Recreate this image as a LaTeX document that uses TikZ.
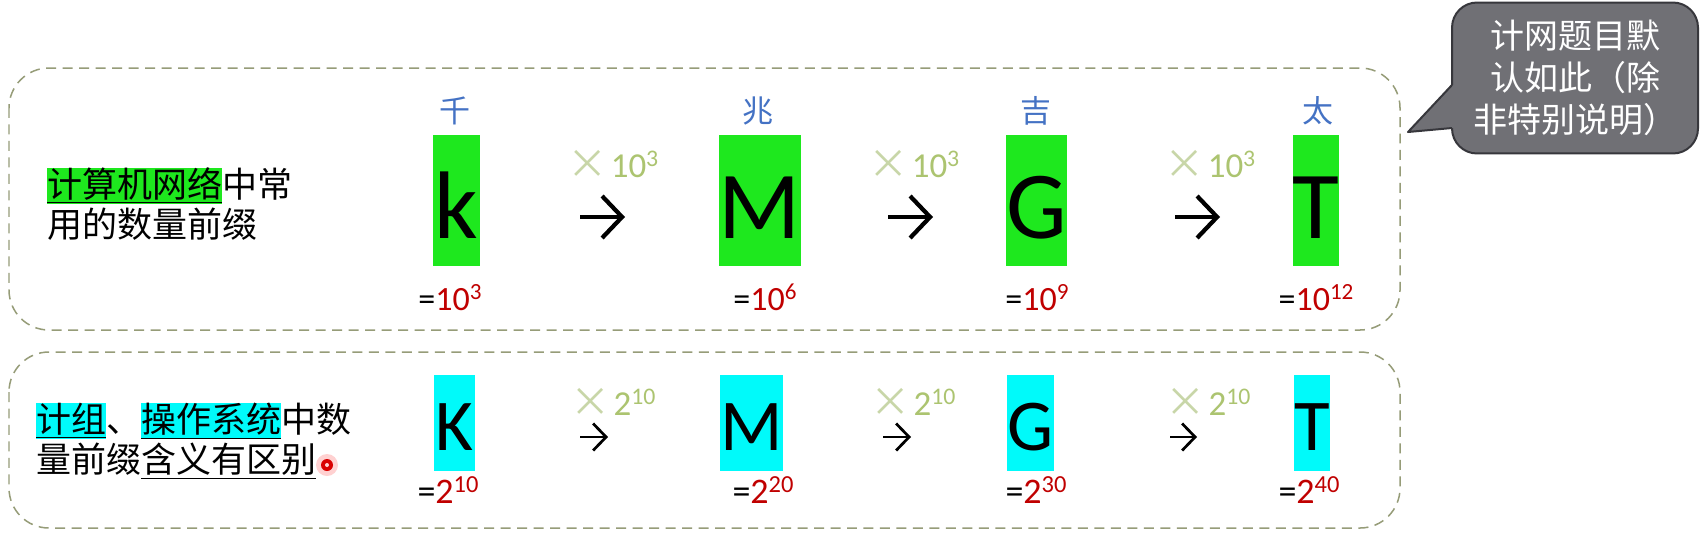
\documentclass[tikz,border=0pt]{standalone}
\usepackage{fontspec}
\usepackage{tikz}
\setmainfont{Carlito}
\newfontfamily\cjk{Noto Sans CJK SC}
\usetikzlibrary{
  arrows.meta,
  calc,
  positioning,
  shapes}
\definecolor{boxgreen}{RGB}{30,232,30}
\definecolor{boxcyan}{RGB}{0,250,250}
\definecolor{zhblue}{RGB}{68,114,196}
\definecolor{eqred}{RGB}{192,0,0}
\definecolor{multgreen}{RGB}{172,196,112}
\definecolor{multlight}{RGB}{200,214,168}
\definecolor{dashgray}{RGB}{150,156,120}
\definecolor{notegray}{RGB}{112,112,117}
\definecolor{noteborder}{RGB}{55,55,60}
\newcommand{\hlg}[1]{{\setlength{\fboxsep}{0pt}\colorbox{boxgreen}{\underline{#1}}}}
\newcommand{\hlc}[1]{{\setlength{\fboxsep}{0pt}\colorbox{boxcyan}{\underline{#1}}}}
\newcommand{\sups}[1]{\raisebox{0.3em}{\scalebox{0.68}{#1}}}
\newcommand{\mulsign}{\textcolor{multlight}{\raisebox{-0.05em}{\scalebox{1.15}{\cjk×}}}\kern0.08em}

\begin{document}
\begin{tikzpicture}[x=0.02cm,y=-0.02cm,
    frame/.style={draw=dashgray,line width=0.03cm,dash pattern=on 0.2cm off 0.13cm,rounded corners=0.8cm},
    lefttext/.style={anchor=west,align=left,inner sep=0pt,font=\cjk\fontsize{0.7cm}{0.8cm}\selectfont},
    bigbox/.style={inner sep=0pt,minimum height=2.62cm,text height=1.5cm,text depth=0pt,font=\fontsize{1.92cm}{2cm}\selectfont},
    smallbox/.style={inner sep=0pt,minimum height=1.92cm,text height=1.08cm,text depth=0pt,font=\fontsize{1.46cm}{1.6cm}\selectfont},
    zh/.style={text=zhblue,inner sep=0pt,font=\cjk\fontsize{0.62cm}{0.7cm}\selectfont},
    eqtop/.style={anchor=base,inner sep=0pt,font=\fontsize{0.68cm}{0.8cm}\selectfont},
    eqbot/.style={anchor=base,inner sep=0pt,font=\fontsize{0.72cm}{0.8cm}\selectfont},
    mult/.style={anchor=base,inner sep=0pt,text=multgreen,font=\fontsize{0.7cm}{0.8cm}\selectfont},
    bigarr/.style={line width=0.085cm,-{Straight Barb[length=0.4cm,width=0.84cm]}},
    smallarr/.style={line width=0.055cm,-{Straight Barb[length=0.26cm,width=0.54cm]}},
    note/.style={fill=notegray,draw=noteborder,line width=0.04cm,rounded corners=0.5cm,minimum width=4.92cm,minimum height=3.02cm,text=white,align=center,font=\cjk\fontsize{0.68cm}{0.84cm}\selectfont}]
        \useasboundingbox[fill=white] (0,0) rectangle (1702,542);
        \draw[frame] (9,68) rectangle (1400,330);
        \draw[frame] (9,352) rectangle (1400,528);
        \node[lefttext] (nettext) at (47,204) {\hlg{计算机网络}中常\\用的数量前缀};
        \node[lefttext] (ostext) at (36,441) {\hlc{计组}、\hlc{操作系统}中数\\量前缀\underline{含义有区别}};
        \coordinate (dot) at (327,465);
        \fill[red!18] (dot) circle (0.22cm);
        \fill[red!85!black] (dot) circle (0.12cm);
        \fill[pink!70] (dot) circle (0.04cm);
        \node[bigbox,fill=boxgreen,minimum width=0.94cm] (k) at (456.5,200.5) {k};
        \node[bigbox,fill=boxgreen,minimum width=1.6cm] (M) at (760,200.5) {M};
        \node[bigbox,fill=boxgreen,minimum width=1.18cm] (G) at (1036.5,200.5) {G};
        \node[bigbox,fill=boxgreen,minimum width=0.92cm] (T) at (1316,200.5) {T};
        \node[zh] (qian) at (455,111) {千};
        \node[zh] (zhao) at (758,111) {兆};
        \node[zh] (ji) at (1036,111) {吉};
        \node[zh] (tai) at (1318,111) {太};
        \node[eqtop] (kval) at (450,310) {=\textcolor{eqred}{10\sups{3}}};
        \node[eqtop] (Mval) at (765,310) {=\textcolor{eqred}{10\sups{6}}};
        \node[eqtop] (Gval) at (1037,310) {=\textcolor{eqred}{10\sups{9}}};
        \node[eqtop] (Tval) at (1316,310) {=\textcolor{eqred}{10\sups{12}}};
        \node[mult] (tm1) at (613,177) {\mulsign10\sups{3}};
        \node[mult] (tm2) at (914,177) {\mulsign10\sups{3}};
        \node[mult] (tm3) at (1210,177) {\mulsign10\sups{3}};
        \coordinate (ta1) at (580,217); \coordinate (tb1) at (625,217);
        \coordinate (ta2) at (888,217); \coordinate (tb2) at (933,217);
        \coordinate (ta3) at (1175,217); \coordinate (tb3) at (1220,217);
        \draw[bigarr] (ta1) -- (tb1);
        \draw[bigarr] (ta2) -- (tb2);
        \draw[bigarr] (ta3) -- (tb3);
        \node[smallbox,fill=boxcyan,minimum width=0.82cm] (bK) at (454.5,423) {K};
        \node[smallbox,fill=boxcyan,minimum width=1.22cm] (bM) at (751.5,423) {M};
        \node[smallbox,fill=boxcyan,minimum width=0.9cm] (bG) at (1030.5,423) {G};
        \node[smallbox,fill=boxcyan,minimum width=0.68cm] (bT) at (1312,423) {T};
        \node[eqbot] (bKval) at (448,503) {=\textcolor{eqred}{2\sups{10}}};
        \node[eqbot] (bMval) at (763,503) {=\textcolor{eqred}{2\sups{20}}};
        \node[eqbot] (bGval) at (1036,503) {=\textcolor{eqred}{2\sups{30}}};
        \node[eqbot] (bTval) at (1309,503) {=\textcolor{eqred}{2\sups{40}}};
        \node[mult] (bm1) at (613,415) {\mulsign2\sups{10}};
        \node[mult] (bm2) at (913,415) {\mulsign2\sups{10}};
        \node[mult] (bm3) at (1208,415) {\mulsign2\sups{10}};
        \coordinate (ba1) at (580,437); \coordinate (bb1) at (608,437);
        \coordinate (ba2) at (883,437); \coordinate (bb2) at (911,437);
        \coordinate (ba3) at (1170,437); \coordinate (bb3) at (1197,437);
        \draw[smallarr] (ba1) -- (bb1);
        \draw[smallarr] (ba2) -- (bb2);
        \draw[smallarr] (ba3) -- (bb3);
        \node[note] (remark) at (1575,78) {计网题目默\\认如此（除\\非特别说明）};
        \coordinate (ptr) at (1408,132);
        \fill[notegray] (1451,85) -- (1460,85) -- (1460,128) -- (1451,128) -- (ptr) -- cycle;
        \draw[noteborder,line width=0.04cm,line join=round] (1452,85) -- (ptr) -- (1452,128);
    \end{tikzpicture}
\end{document}
